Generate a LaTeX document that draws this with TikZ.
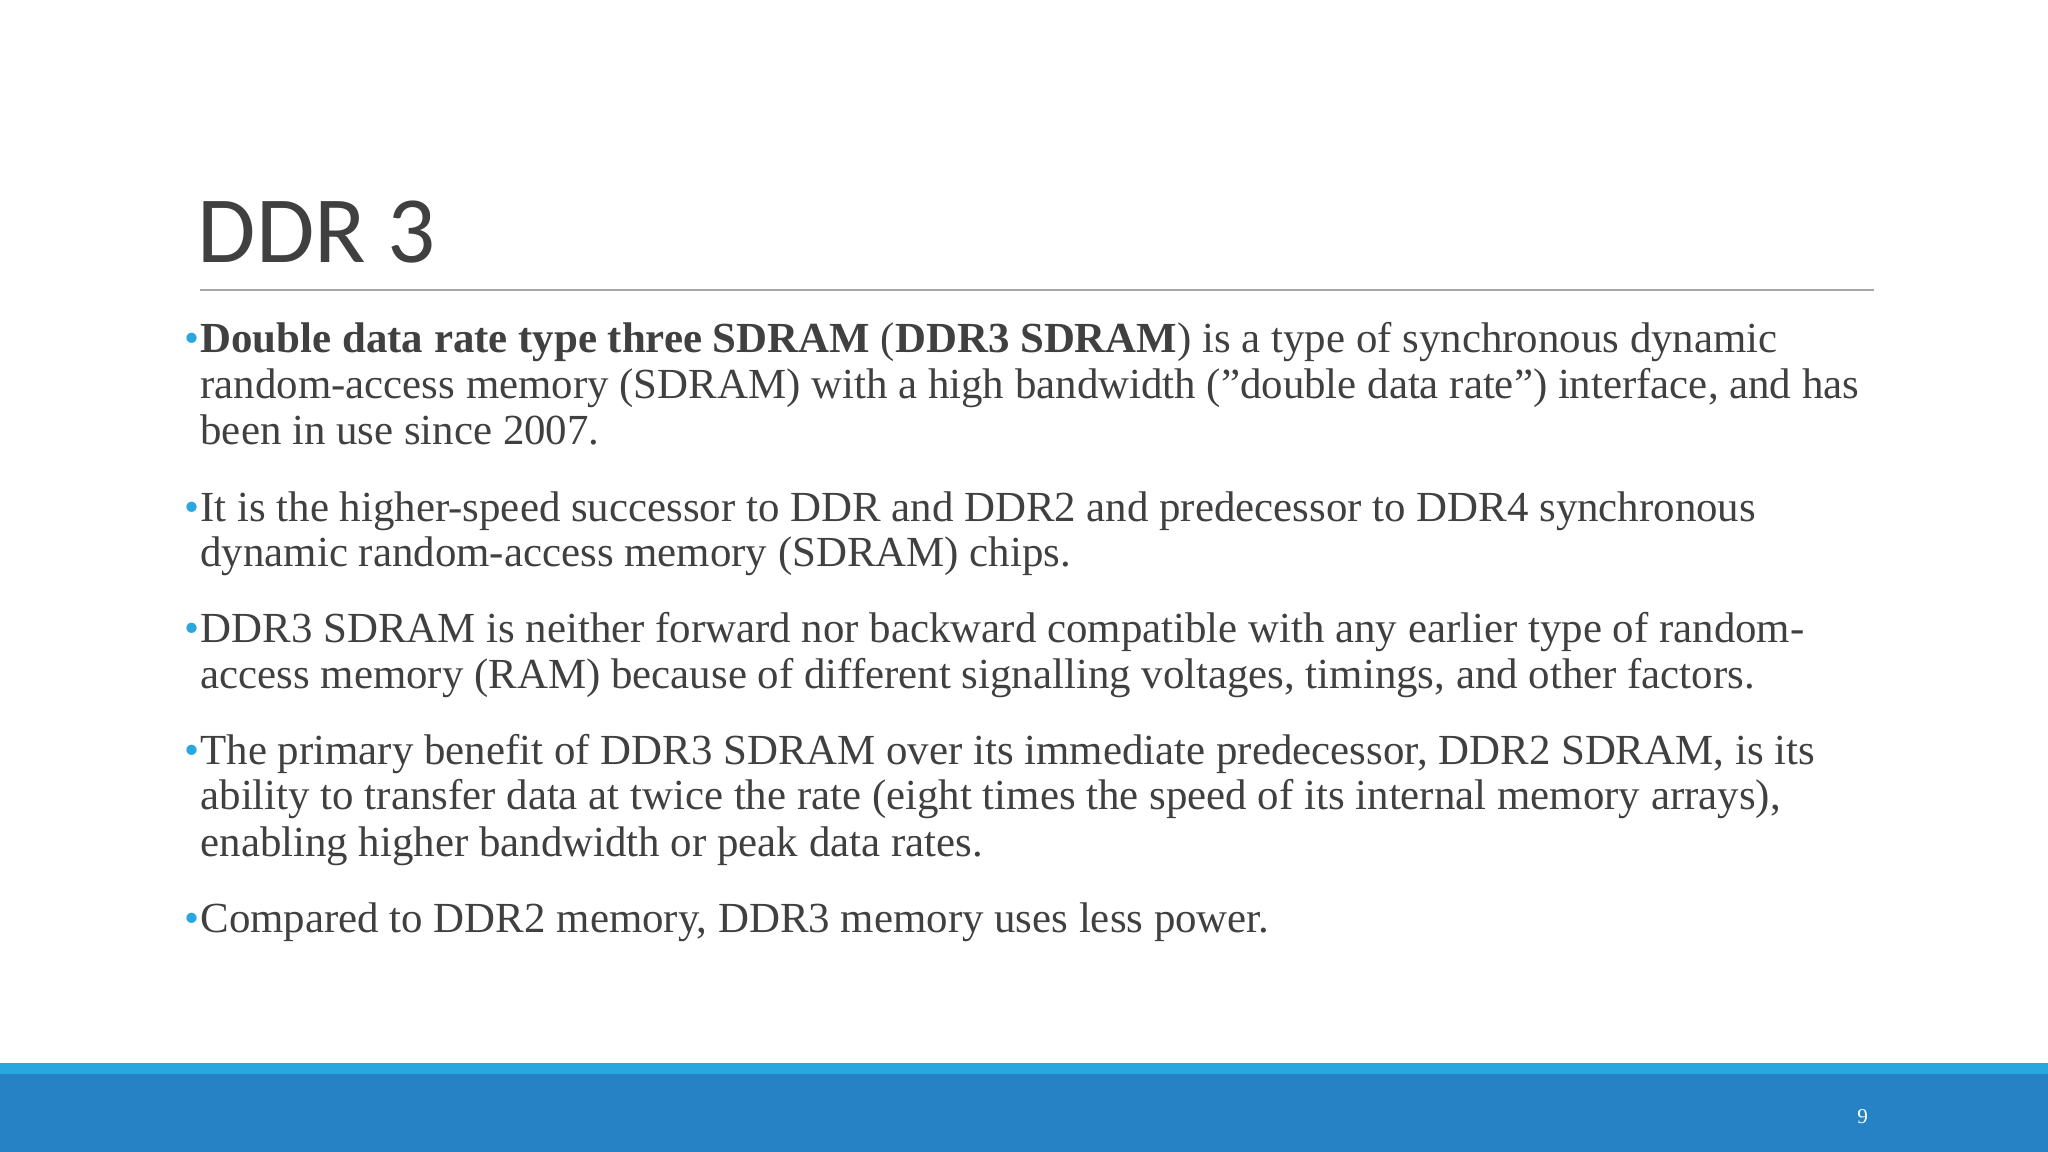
\documentclass[tikz,border=0pt]{standalone}
\usepackage{fontspec}
\setmainfont{Liberation Serif}
\newfontfamily\titlefont{Carlito}
\definecolor{txt}{HTML}{404040}
\definecolor{lblue}{HTML}{29A8E0}
\definecolor{dblue}{HTML}{2682C4}
\begin{document}
\begin{tikzpicture}[x=0.01306cm,y=-0.01306cm,
  ln/.style={anchor=base west,inner sep=0pt,text=txt,font=\fontsize{12.2pt}{14pt}\selectfont},
  bul/.style={anchor=base east,inner sep=0pt,text=lblue,font=\fontsize{12.2pt}{14pt}\selectfont}]
\fill[white] (0,0) rectangle (1568,882);
\useasboundingbox (0,0) rectangle (1568,882);
\fill[lblue] (0,814) rectangle (1568,823);
\fill[dblue] (0,822) rectangle (1568,882);
\node[anchor=center,text=white,font=\fontsize{6pt}{7pt}\selectfont] (pg) at (1426,855) {9};
\node[anchor=base west,inner sep=0pt,text=txt,font=\titlefont\fontsize{27pt}{30pt}\selectfont] (title) at (151,201) {DDR 3};
\draw[gray!70,line width=0.6pt] (153,222) coordinate (ra) -- (1435,222) coordinate (rb);
\node[bul] (b1) at (153,270) {•};
\node[ln] (l1) at (153,270) {\textbf{Double data rate type three SDRAM} (\textbf{DDR3 SDRAM}) is a type of synchronous dynamic};
\node[ln] (l2) at (153,305) {random-access memory (SDRAM) with a high bandwidth ("double data rate") interface, and has};
\node[ln] (l3) at (153,340) {been in use since 2007.};
\node[bul] (b2) at (153,399) {•};
\node[ln] (l4) at (153,399) {It is the higher-speed successor to DDR and DDR2 and predecessor to DDR4 synchronous};
\node[ln] (l5) at (153,434) {dynamic random-access memory (SDRAM) chips.};
\node[bul] (b3) at (153,492) {•};
\node[ln] (l6) at (153,492) {DDR3 SDRAM is neither forward nor backward compatible with any earlier type of random-};
\node[ln] (l7) at (153,527) {access memory (RAM) because of different signalling voltages, timings, and other factors.};
\node[bul] (b4) at (153,585) {•};
\node[ln] (l8) at (153,585) {The primary benefit of DDR3 SDRAM over its immediate predecessor, DDR2 SDRAM, is its};
\node[ln] (l9) at (153,620) {ability to transfer data at twice the rate (eight times the speed of its internal memory arrays),};
\node[ln] (l10) at (153,656) {enabling higher bandwidth or peak data rates.};
\node[bul] (b5) at (153,714) {•};
\node[ln] (l11) at (153,714) {Compared to DDR2 memory, DDR3 memory uses less power.};
\end{tikzpicture}
\end{document}
